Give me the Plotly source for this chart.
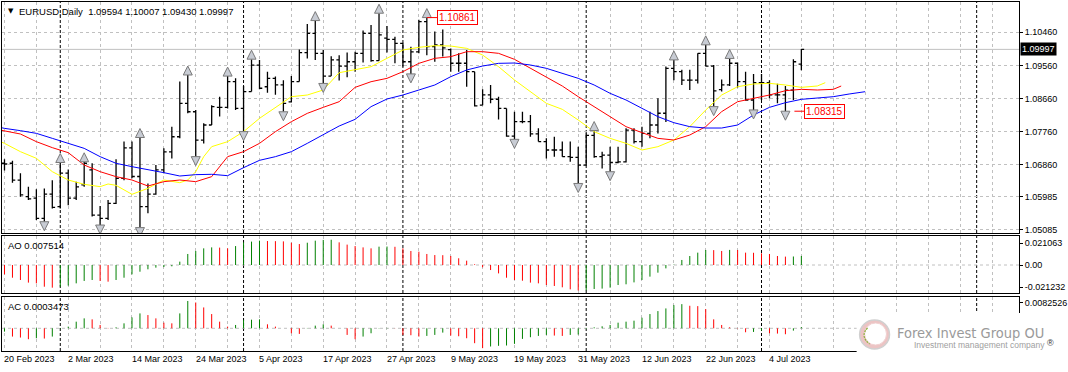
import plotly.graph_objects as go

# ------------------------------------------------------------------ data
SYMBOL = "EURUSD,Daily"
DATE_LABELS = ["20 Feb 2023", "2 Mar 2023", "14 Mar 2023", "24 Mar 2023", "5 Apr 2023",
               "17 Apr 2023", "27 Apr 2023", "9 May 2023", "19 May 2023", "31 May 2023",
               "12 Jun 2023", "22 Jun 2023", "4 Jul 2023"]
LABEL_EVERY = 8                      # one date label every 8 bars
MONTH_STARTS = [7, 30, 50, 73, 95, 122]   # bar index of period separators

OPEN = [1.0690, 1.0690, 1.0644, 1.0599, 1.0595, 1.0540, 1.0606, 1.0572, 1.0663, 1.0595,
        1.0631, 1.0672, 1.0549, 1.0540, 1.0581, 1.0649, 1.0732, 1.0654, 1.0572, 1.0606,
        1.0672, 1.0721, 1.0762, 1.0853, 1.0830, 1.0753, 1.0794, 1.0842, 1.0842, 1.0912,
        1.0839, 1.0885, 1.0957, 1.0898, 1.0921, 1.0903, 1.0857, 1.0912, 1.0991, 1.1043,
        1.0989, 1.0927, 1.0971, 1.0954, 1.0966, 1.0989, 1.1043, 1.0969, 1.1030, 1.1027,
        1.1016, 1.0966, 1.0993, 1.1075, 1.1007, 1.1012, 1.0999, 1.0962, 1.0962, 1.0939,
        1.0848, 1.0876, 1.0864, 1.0839, 1.0764, 1.0803, 1.0803, 1.0770, 1.0749, 1.0726,
        1.0726, 1.0708, 1.0706, 1.0685, 1.0766, 1.0708, 1.0712, 1.0692, 1.0694, 1.0780,
        1.0749, 1.0771, 1.0794, 1.0826, 1.0948, 1.0939, 1.0916, 1.0916, 1.0989, 1.0954,
        1.0890, 1.0903, 1.0962, 1.0912, 1.0862, 1.0909, 1.0909, 1.0876, 1.0876, 1.0889,
        1.09594]
HIGH = [1.0701, 1.0697, 1.0663, 1.0626, 1.0619, 1.0621, 1.0644, 1.0692, 1.0673, 1.0640,
        1.0694, 1.0690, 1.0574, 1.0590, 1.0701, 1.0749, 1.0749, 1.0760, 1.0635, 1.0685,
        1.0731, 1.0789, 1.0912, 1.0930, 1.0835, 1.0799, 1.0848, 1.0871, 1.0927, 1.0921,
        1.0900, 1.0973, 1.0971, 1.0939, 1.0926, 1.0916, 1.0927, 1.0999, 1.1069, 1.1078,
        1.0998, 1.0981, 1.0984, 1.0991, 1.0993, 1.1051, 1.1066, 1.1098, 1.1063, 1.1034,
        1.1018, 1.1007, 1.1080, 1.10861, 1.1048, 1.1054, 1.1002, 1.0989, 1.0998, 1.0939,
        1.0891, 1.0903, 1.0871, 1.0839, 1.0830, 1.0830, 1.0821, 1.0785, 1.0758, 1.0762,
        1.0749, 1.0749, 1.0735, 1.0772, 1.0779, 1.0721, 1.0735, 1.0735, 1.0785, 1.0785,
        1.0789, 1.0830, 1.0867, 1.0953, 1.0971, 1.0944, 1.0944, 1.0989, 1.1012, 1.0957,
        1.0918, 1.0975, 1.0964, 1.0939, 1.0933, 1.0933, 1.0916, 1.0906, 1.0900, 1.0973,
        1.10007]
LOW = [1.0670, 1.0637, 1.0599, 1.0590, 1.0536, 1.0531, 1.0567, 1.0567, 1.0576, 1.0590,
       1.0626, 1.0545, 1.0522, 1.0536, 1.0579, 1.0644, 1.0649, 1.0515, 1.0554, 1.0604,
       1.0663, 1.0703, 1.0758, 1.0826, 1.0708, 1.0744, 1.0794, 1.0817, 1.0839, 1.0835,
       1.0776, 1.0885, 1.0891, 1.0882, 1.0876, 1.0830, 1.0855, 1.0912, 1.0975, 1.0971,
       1.0907, 1.0927, 1.0915, 1.0924, 1.0939, 1.0964, 1.0966, 1.0969, 1.0991, 1.0962,
       1.0953, 1.0933, 1.0989, 1.0984, 1.0966, 1.0980, 1.0939, 1.0939, 1.0898, 1.0844,
       1.0848, 1.0853, 1.0809, 1.0762, 1.0755, 1.0799, 1.0762, 1.0749, 1.0703, 1.0708,
       1.0708, 1.0694, 1.0635, 1.0683, 1.0705, 1.0676, 1.0667, 1.0690, 1.0692, 1.0744,
       1.0735, 1.0758, 1.0771, 1.0802, 1.0916, 1.0903, 1.0889, 1.0907, 1.0953, 1.0844,
       1.0885, 1.0900, 1.0896, 1.0860, 1.0835, 1.0862, 1.0867, 1.0853, 1.08315, 1.0862,
       1.09430]
CLOSE = [1.0688, 1.0644, 1.0604, 1.0593, 1.0540, 1.0606, 1.0570, 1.0663, 1.0595, 1.0626,
         1.0690, 1.0549, 1.0540, 1.0581, 1.0649, 1.0732, 1.0654, 1.0572, 1.0606, 1.0672,
         1.0721, 1.0762, 1.0853, 1.0830, 1.0753, 1.0794, 1.0844, 1.0842, 1.0912, 1.0839,
         1.0885, 1.0957, 1.0894, 1.0921, 1.0903, 1.0853, 1.0912, 1.0991, 1.1043, 1.0989,
         1.0927, 1.0971, 1.0954, 1.0966, 1.0989, 1.1043, 1.0969, 1.1039, 1.1027, 1.1016,
         1.0966, 1.0993, 1.1075, 1.1007, 1.1012, 1.1004, 1.0962, 1.0962, 1.0939, 1.0846,
         1.0876, 1.0864, 1.0839, 1.0764, 1.0803, 1.0803, 1.0770, 1.0749, 1.0726, 1.0726,
         1.0708, 1.0706, 1.0685, 1.0766, 1.0708, 1.0712, 1.0692, 1.0694, 1.0780, 1.0749,
         1.0771, 1.0794, 1.0826, 1.0948, 1.0939, 1.0916, 1.0916, 1.0989, 1.0954, 1.0887,
         1.0903, 1.0962, 1.0912, 1.0862, 1.0909, 1.0909, 1.0876, 1.0876, 1.0889, 1.0966,
         1.09997]

# Alligator lines (jaw = blue, teeth = red, lips = yellow), read at bar indices
JAW_X = [-1] + list(range(0, 109, 2))
JAW = [1.07895, 1.07849, 1.07786, 1.07713, 1.07577, 1.07441, 1.07305, 1.07079, 1.06898,
       1.06807, 1.06735, 1.06644, 1.06553, 1.06590, 1.06599, 1.06562, 1.06780, 1.06979,
       1.07079, 1.07215, 1.07441, 1.07686, 1.07913, 1.08094, 1.08439, 1.08647, 1.08756,
       1.08892, 1.09028, 1.09254, 1.09436, 1.09544, 1.09617, 1.09626, 1.09572, 1.09481,
       1.09345, 1.09209, 1.09028, 1.08801, 1.08620, 1.08393, 1.08167, 1.08003, 1.07895,
       1.07858, 1.07858, 1.07940, 1.08212, 1.08420, 1.08547, 1.08638, 1.08674, 1.08710,
       1.08783, 1.08846]
TEETH_X = [-1] + list(range(0, 105, 2)) + [105]
TEETH = [1.07822, 1.07786, 1.07695, 1.07487, 1.07324, 1.07188, 1.06852, 1.06671, 1.06535,
         1.06444, 1.06281, 1.06399, 1.06444, 1.06399, 1.06535, 1.07079, 1.07215, 1.07441,
         1.07759, 1.08031, 1.08257, 1.08420, 1.08574, 1.08964, 1.09118, 1.09209, 1.09390,
         1.09617, 1.09753, 1.09798, 1.09934, 1.09934, 1.09889, 1.09726, 1.09481, 1.09254,
         1.09000, 1.08710, 1.08439, 1.08167, 1.07895, 1.07732, 1.07577, 1.07532, 1.07668,
         1.07895, 1.08303, 1.08574, 1.08665, 1.08756, 1.08873, 1.08910, 1.08892, 1.08910,
         1.09000]
LIPS_X = [-1, 0, 2, 4, 6, 8, 10, 12, 13, 14, 16, 18, 20, 22, 23, 24, 25, 26, 28, 30, 32,
          34, 36, 38, 40, 42, 44, 46, 48, 50, 52, 54, 56, 58, 60, 62, 64, 66, 68, 70, 72,
          74, 76, 78, 80, 82, 84, 86, 88, 90, 92, 94, 96, 98, 100, 102, 103]
LIPS = [1.07532, 1.07441, 1.07215, 1.07034, 1.06671, 1.06444, 1.06327, 1.06263, 1.06336,
        1.06299, 1.06055, 1.06218, 1.06444, 1.06372, 1.06444, 1.06671, 1.07079, 1.07351,
        1.07487, 1.07759, 1.08121, 1.08420, 1.08710, 1.08756, 1.08892, 1.09363, 1.09454,
        1.09526, 1.09753, 1.09979, 1.10052, 1.10097, 1.10088, 1.10025, 1.09843, 1.09526,
        1.09164, 1.08846, 1.08529, 1.08366, 1.08076, 1.07759, 1.07577, 1.07441, 1.07260,
        1.07351, 1.07532, 1.07895, 1.08348, 1.08756, 1.08982, 1.09055, 1.09073, 1.09028,
        1.08964, 1.09001, 1.09091]

FRACTAL_UP = [7, 10, 17, 23, 28, 31, 39, 47, 53, 74, 84, 88, 91]
FRACTAL_DOWN = [5, 12, 17, 24, 30, 35, 40, 51, 64, 72, 76, 89, 94, 98]
LABELLED_HIGH = 53
LABELLED_LOW = 98

AO = [-0.0078, -0.0106, -0.0125, -0.0147, -0.0153, -0.0181, -0.0189, -0.0181, -0.0172, -0.0153,
      -0.0133, -0.0125, -0.0133, -0.0139, -0.0125, -0.0106, -0.0078, -0.0056, -0.0036, -0.0022,
      -0.0017, -0.0011, 0.0028, 0.0092, 0.0117, 0.0139, 0.0147, 0.0145, 0.0139, 0.0158,
      0.0189, 0.0195, 0.0203, 0.0200, 0.0199, 0.0197, 0.0186, 0.0175, 0.0186, 0.0203,
      0.0209, 0.021063, 0.0189, 0.0170, 0.0158, 0.0147, 0.0139, 0.0153, 0.0154, 0.0152,
      0.0139, 0.0117, 0.0111, 0.0092, 0.0083, 0.0082, 0.0075, 0.0056, 0.0036, 0.0006,
      -0.0019, -0.0042, -0.0070, -0.0106, -0.0125, -0.0131, -0.0147, -0.0153, -0.0167, -0.0175,
      -0.0186, -0.0203, -0.021232, -0.0211, -0.0200, -0.0197, -0.0189, -0.0167, -0.0161, -0.0145,
      -0.0125, -0.0097, -0.0064, -0.0028, 0.0003, 0.0042, 0.0075, 0.0103, 0.0125, 0.0124,
      0.0117, 0.0126, 0.0125, 0.0103, 0.0102, 0.0097, 0.0092, 0.0075, 0.0070, 0.0071,
      0.007514]
AO_BEFORE = -0.0070
AC = [-0.0010, -0.0025, -0.0028, -0.0033, -0.0030, -0.0031, -0.0025, -0.0002, 0.0005, 0.0020,
      0.0030, 0.0027, 0.0010, 0.0001, 0.0003, 0.0015, 0.0033, 0.0045, 0.0040, 0.0030,
      0.0017, 0.0015, 0.0045, 0.0082526, 0.0078, 0.0063, 0.0043, 0.0020, 0.0005, 0.0010,
      0.0025, 0.0026, 0.0027, 0.0012, 0.0005, 0.0000, -0.0015, -0.0017, 0.0001, 0.0008,
      0.0012, 0.0008, 0.0000, -0.0020, -0.0033, -0.0025, -0.0015, -0.0001, 0.0001, 0.00005,
      -0.0020, -0.0021, -0.0025, -0.0023, -0.0020, -0.0013, -0.0022, -0.0024, -0.0030, -0.0045,
      -0.0060, -0.0055, -0.0053, -0.0052, -0.0047, -0.0032, -0.0027, -0.0023, -0.0020, -0.0022,
      -0.0023, -0.0020, -0.0019, -0.0002, 0.0003, 0.0006, 0.0010, 0.0017, 0.0020, 0.0023,
      0.0032, 0.0043, 0.0052, 0.0060, 0.0070, 0.0073, 0.0068, 0.0067, 0.0058, 0.0027,
      0.0010, 0.0003, -0.0001, -0.0012, -0.0011, -0.0007, -0.0015, -0.0016, -0.0018, -0.0007,
      0.0003473]
AC_BEFORE = -0.0015

PRICE_TICKS = [1.10460, 1.09560, 1.08660, 1.07760, 1.06860, 1.05985, 1.05085]
AO_TICK_VALS = [0.0181, 0.0, -0.0186]
AO_TICK_TEXT = ["0.021063", "0.00", "-0.021232"]
AC_TICK_VALS = [0.00773]
AC_TICK_TEXT = ["0.0082526"]

# ------------------------------------------------------------------ layout constants
W, H = 1068, 372
M = dict(l=1, r=46, t=2, b=21)
PW = W - M["l"] - M["r"]
PH = H - M["t"] - M["b"]
X_RANGE = [-0.3125, 127.3125]        # 8 px per bar, bar centres on pixel centres
Y_RANGE = [1.05003, 1.11285]
AO_RANGE = [-0.02335, 0.02419]
AC_RANGE = [-0.00686, 0.00945]
DOM_MAIN = [0.3381, 1.0]
DOM_AO = [0.1662, 0.3295]
DOM_AC = [0.0, 0.1547]

GRID = "#c0c0c0"
GREEN = "#008000"
RED = "#ff0000"
FONT = "Liberation Sans, Arial, sans-serif"


def px_x(x):
    return (x - M["l"]) / PW


def px_y(y):
    return (H - M["b"] - y) / PH


def histogram_traces(vals, before, xa, ya):
    """MT4 style histogram: thin vertical lines, green when rising, red when falling."""
    groups = {GREEN: ([], []), RED: ([], [])}
    prev = before
    for i, v in enumerate(vals):
        col = GREEN if v > prev else RED
        gx, gy = groups[col]
        gx += [i, i, None]
        gy += [0, v, None]
        prev = v
    return [go.Scatter(x=gx, y=gy, mode="lines", line=dict(color=c, width=1),
                       xaxis=xa, yaxis=ya, hoverinfo="skip")
            for c, (gx, gy) in groups.items()]


idx = list(range(len(CLOSE)))
price_per_px = (Y_RANGE[1] - Y_RANGE[0]) / (PH * (DOM_MAIN[1] - DOM_MAIN[0]))
arrow_off = 9 * price_per_px

fig = go.Figure()
fig.add_trace(go.Scatter(x=LIPS_X, y=LIPS, mode="lines", line=dict(color="#ffff00", width=1),
                         xaxis="x", yaxis="y", hoverinfo="skip"))
fig.add_trace(go.Scatter(x=TEETH_X, y=TEETH, mode="lines", line=dict(color="#ff0000", width=1),
                         xaxis="x", yaxis="y", hoverinfo="skip"))
fig.add_trace(go.Scatter(x=JAW_X, y=JAW, mode="lines", line=dict(color="#0000ff", width=1),
                         xaxis="x", yaxis="y", hoverinfo="skip"))
fig.add_trace(go.Ohlc(x=idx, open=OPEN, high=HIGH, low=LOW, close=CLOSE, tickwidth=0.35,
                      increasing=dict(line=dict(color="black", width=1.3)),
                      decreasing=dict(line=dict(color="black", width=1.3)),
                      xaxis="x", yaxis="y"))
fig.add_trace(go.Scatter(x=FRACTAL_UP, y=[HIGH[i] + arrow_off for i in FRACTAL_UP], mode="markers",
                         marker=dict(symbol="arrow-up", size=9, color="#c8ccd4",
                                     line=dict(color="#7a7a7a", width=1)),
                         xaxis="x", yaxis="y"))
fig.add_trace(go.Scatter(x=FRACTAL_DOWN, y=[LOW[i] - arrow_off for i in FRACTAL_DOWN], mode="markers",
                         marker=dict(symbol="arrow-down", size=9, color="#c8ccd4",
                                     line=dict(color="#7a7a7a", width=1)),
                         xaxis="x", yaxis="y"))
for tr in histogram_traces(AO, AO_BEFORE, "x2", "y2"):
    fig.add_trace(tr)
for tr in histogram_traces(AC, AC_BEFORE, "x3", "y3"):
    fig.add_trace(tr)

xcommon = dict(range=X_RANGE, domain=[0, 1], showgrid=True, gridcolor=GRID, gridwidth=1, griddash="3px,3px",
               tickmode="linear", tick0=0, dtick=4, showticklabels=False, ticks="", zeroline=False,
               showline=True, mirror=True, linecolor="black", linewidth=1, fixedrange=True)
ycommon = dict(side="right", ticks="outside", ticklen=3, tickcolor="black", zeroline=False,
               showline=True, mirror=True, linecolor="black", linewidth=1, fixedrange=True,
               tickfont=dict(family=FONT, size=9, color="black"), tickmode="array")

fig.update_layout(
    width=W, height=H, margin=M, paper_bgcolor="white", plot_bgcolor="white", showlegend=False,
    hovermode=False,
    xaxis=dict(anchor="y", rangeslider=dict(visible=False), **xcommon),
    xaxis2=dict(anchor="y2", matches="x", **xcommon),
    xaxis3=dict(anchor="y3", matches="x", **xcommon),
    yaxis=dict(anchor="x", domain=DOM_MAIN, range=Y_RANGE, tickvals=PRICE_TICKS,
               ticktext=[f"{v:.5f}" for v in PRICE_TICKS], showgrid=True, gridcolor=GRID,
               griddash="3px,3px", **ycommon),
    yaxis2=dict(anchor="x2", domain=DOM_AO, range=AO_RANGE, tickvals=AO_TICK_VALS,
                ticktext=AO_TICK_TEXT, showgrid=False, **ycommon),
    yaxis3=dict(anchor="x3", domain=DOM_AC, range=AC_RANGE, tickvals=AC_TICK_VALS,
                ticktext=AC_TICK_TEXT, showgrid=False, **ycommon),
)

shapes = []
for m in MONTH_STARTS:
    for xr, yr in (("x", "y domain"), ("x2", "y2 domain"), ("x3", "y3 domain")):
        shapes.append(dict(type="line", xref=xr, yref=yr, x0=m, x1=m, y0=0, y1=1, layer="below",
                           line=dict(color="black", width=1, dash="3px,2px")))
for xr, yr in (("x2 domain", "y2"), ("x3 domain", "y3")):
    shapes.append(dict(type="line", xref=xr, yref=yr, x0=0, x1=1, y0=0, y1=0, layer="below",
                       line=dict(color=GRID, width=1, dash="3px,3px")))
shapes.append(dict(type="line", xref="x domain", yref="y", x0=0, x1=1, y0=CLOSE[-1], y1=CLOSE[-1],
                   layer="below", line=dict(color="#c0c0c0", width=1)))
# watermark backdrop and logo
shapes.append(dict(type="rect", xref="paper", yref="paper", x0=px_x(859), x1=px_x(1070),
                   y0=px_y(374), y1=px_y(313), fillcolor="white", line=dict(width=0), layer="above"))
shapes.append(dict(type="circle", xref="paper", yref="paper", x0=px_x(862), x1=px_x(892),
                   y0=px_y(349), y1=px_y(320), fillcolor="#ecc4c4", line=dict(color="#d0d0d0", width=1.5),
                   layer="above"))
shapes.append(dict(type="circle", xref="paper", yref="paper", x0=px_x(867), x1=px_x(889),
                   y0=px_y(345), y1=px_y(323), fillcolor="white", line=dict(color="#f0d0d0", width=1),
                   layer="above"))
shapes.append(dict(type="path", xref="paper", yref="paper", layer="above",
                   path=f"M {px_x(870)} {px_y(328)} Q {px_x(862)} {px_y(336)} {px_x(872)} {px_y(344)}",
                   line=dict(color="#8cb43c", width=1.2, dash="2px,1px")))
fig.update_layout(shapes=shapes)

ann = []
ann.append(dict(text="▼", xref="paper", yref="y domain", x=0, y=1, xanchor="left", yanchor="top",
                xshift=4, yshift=-3, showarrow=False, font=dict(family="DejaVu Sans", size=7, color="black")))
title = SYMBOL + "\u00a0\u00a0" + " ".join(f"{v:.5f}" for v in (OPEN[-1], HIGH[-1], LOW[-1], CLOSE[-1]))
ann.append(dict(text=title, xref="paper", yref="y domain", x=0, y=1, xanchor="left", yanchor="top",
                xshift=15, yshift=-2, showarrow=False, font=dict(family=FONT, size=9.5, color="black")))
ann.append(dict(text=f"AO {AO[-1]:.6f}", xref="paper", yref="y2 domain", x=0, y=1, xanchor="left",
                yanchor="top", xshift=4, yshift=-2, showarrow=False, font=dict(family=FONT, size=9.5, color="black")))
ann.append(dict(text=f"AC {AC[-1]:.7f}", xref="paper", yref="y3 domain", x=0, y=1, xanchor="left",
                yanchor="top", xshift=4, yshift=-2, showarrow=False, font=dict(family=FONT, size=9.5, color="black")))
for k, lab in enumerate(DATE_LABELS):
    ann.append(dict(text=lab, xref="x3", yref="paper", x=k * LABEL_EVERY, y=0, xanchor="left",
                    yanchor="top", xshift=-2, yshift=-1, showarrow=False,
                    font=dict(family=FONT, size=9, color="black")))
ann.append(dict(text=f"{CLOSE[-1]:.5f}", xref="paper", yref="y", x=1, y=CLOSE[-1], xanchor="left",
                yanchor="middle", xshift=1, showarrow=False, bgcolor="black", borderpad=1,
                font=dict(family=FONT, size=9, color="white")))
ann.append(dict(text=f"{HIGH[LABELLED_HIGH]:.5f}", xref="x", yref="y", x=LABELLED_HIGH,
                y=HIGH[LABELLED_HIGH], ax=31, ay=0, showarrow=True, arrowhead=0, arrowwidth=1,
                arrowcolor=RED, bgcolor="white", bordercolor=RED, borderwidth=1, borderpad=1,
                font=dict(family=FONT, size=10, color=RED)))
ann.append(dict(text=f"{LOW[LABELLED_LOW]:.5f}", xref="x", yref="y", x=LABELLED_LOW,
                y=LOW[LABELLED_LOW], ax=39, ay=0, standoff=9, showarrow=True, arrowhead=0, arrowwidth=1,
                arrowcolor=RED, bgcolor="white", bordercolor=RED, borderwidth=1, borderpad=1,
                font=dict(family=FONT, size=10, color=RED)))
ann.append(dict(text="Forex Invest Group OU", xref="paper", yref="paper", x=px_x(898), y=px_y(333),
                xanchor="left", yanchor="middle", showarrow=False,
                font=dict(family="DejaVu Sans Condensed, sans-serif", size=14.5, color="#9a9a9a")))
ann.append(dict(text="Investment management company", xref="paper", yref="paper", x=px_x(915),
                y=px_y(345), xanchor="left", yanchor="middle", showarrow=False,
                font=dict(family=FONT, size=8.5, color="#a0a0a0")))
ann.append(dict(text="®", xref="paper", yref="paper", x=px_x(1048), y=px_y(343), xanchor="left",
                yanchor="middle", showarrow=False, font=dict(family=FONT, size=9, color="#333333")))
fig.update_layout(annotations=ann)

fig.write_html("out.html", config={"displayModeBar": False, "staticPlot": True},
               post_script="document.body.style.margin='0px';document.body.style.padding='0px';")
